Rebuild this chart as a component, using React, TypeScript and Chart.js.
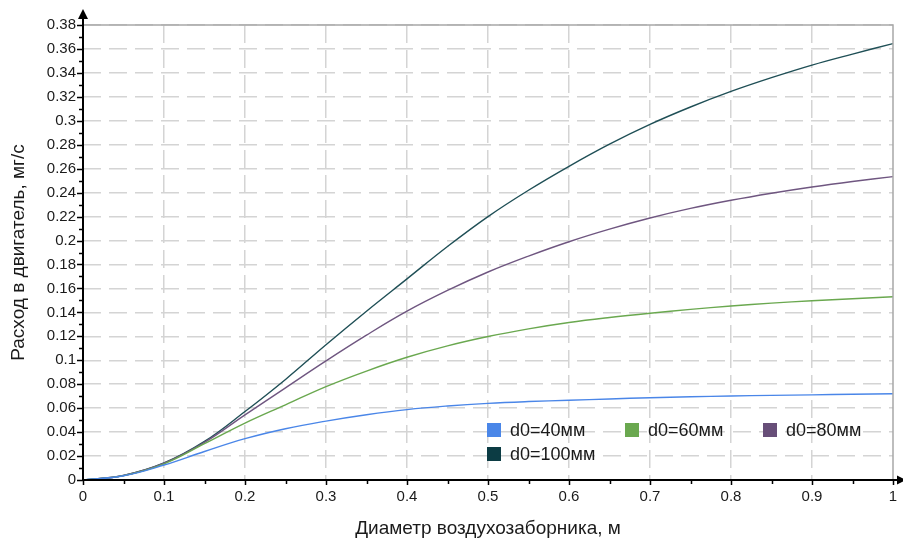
import React, { useEffect, useRef } from "react";
import { Chart, registerables } from "chart.js";

Chart.register(...registerables);

// Air intake diameter, m
const diameters = [0, 0.05, 0.1, 0.15, 0.2, 0.25, 0.3, 0.35, 0.4, 0.45, 0.5, 0.55, 0.6, 0.65, 0.7, 0.75, 0.8, 0.85, 0.9, 0.95, 1.0];

// Engine flow rate, mg/s, for each nozzle diameter d0
const flowD40 = [0, 0.0035, 0.0125, 0.0238, 0.0345, 0.0428, 0.0492, 0.0545, 0.0588, 0.0618, 0.064, 0.0655, 0.0666, 0.0677, 0.0687, 0.0695, 0.0702, 0.0707, 0.0711, 0.0716, 0.072];
const flowD60 = [0, 0.0037, 0.0135, 0.0303, 0.0475, 0.0628, 0.078, 0.091, 0.1025, 0.112, 0.1198, 0.1262, 0.1315, 0.1357, 0.1393, 0.1425, 0.1453, 0.1477, 0.1497, 0.1514, 0.153];
const flowD80 = [0, 0.0038, 0.014, 0.0314, 0.0544, 0.077, 0.0995, 0.121, 0.141, 0.1583, 0.1737, 0.187, 0.199, 0.2095, 0.2188, 0.2268, 0.2336, 0.2395, 0.2447, 0.2493, 0.2534];
const flowD100 = [0, 0.0038, 0.0142, 0.0322, 0.0572, 0.084, 0.113, 0.141, 0.168, 0.195, 0.22, 0.242, 0.262, 0.2805, 0.297, 0.3115, 0.3245, 0.336, 0.3465, 0.3557, 0.3645];

const seriesNames = ["d0=40мм", "d0=60мм", "d0=80мм", "d0=100мм"];
const lineColors = ["#4a86e8", "#6aa84f", "#6f5680", "#1f4f56"];
const swatchColors = ["#4a86e8", "#6aa84f", "#674e78", "#0c3c44"];

const xTickValues = [0, 0.1, 0.2, 0.3, 0.4, 0.5, 0.6, 0.7, 0.8, 0.9, 1];
const yTickValues = [0, 0.02, 0.04, 0.06, 0.08, 0.1, 0.12, 0.14, 0.16, 0.18, 0.2, 0.22, 0.24, 0.26, 0.28, 0.3, 0.32, 0.34, 0.36, 0.38];

const xAxisTitle = "Диаметр воздухозаборника, м";
const yAxisTitle = "Расход в двигатель, мг/с";

const FONT = "'Liberation Sans', Arial, sans-serif";

const fmt = (v: number) => String(Number(v.toFixed(3)));

// Axis lines with arrows, minor ticks, frame and the in-plot legend
const decorPlugin = {
  id: "axisDecor",
  afterDatasetsDraw(chart: any) {
    const { ctx, chartArea: a, scales } = chart;
    const xs = scales.x;
    const ys = scales.y;
    ctx.save();

    // top and right frame
    ctx.strokeStyle = "#a8a8a8";
    ctx.lineWidth = 1.5;
    ctx.beginPath();
    ctx.moveTo(a.left, a.top);
    ctx.lineTo(a.right, a.top);
    ctx.lineTo(a.right, a.bottom);
    ctx.stroke();

    // axis lines
    ctx.strokeStyle = "#000";
    ctx.lineWidth = 2;
    ctx.beginPath();
    ctx.moveTo(a.left, a.bottom);
    ctx.lineTo(a.left, a.top - 10);
    ctx.moveTo(a.left, a.bottom);
    ctx.lineTo(a.right + 6, a.bottom);
    ctx.stroke();

    // arrow heads
    ctx.fillStyle = "#000";
    ctx.beginPath();
    ctx.moveTo(a.left, a.top - 16);
    ctx.lineTo(a.left - 5, a.top - 6);
    ctx.lineTo(a.left + 5, a.top - 6);
    ctx.closePath();
    ctx.fill();
    ctx.beginPath();
    ctx.moveTo(a.right + 13, a.bottom);
    ctx.lineTo(a.right + 4, a.bottom - 4.5);
    ctx.lineTo(a.right + 4, a.bottom + 4.5);
    ctx.closePath();
    ctx.fill();

    // tick marks
    ctx.lineWidth = 1.5;
    ctx.beginPath();
    for (let i = 0; i <= 38; i++) {
      const y = Math.round(ys.getPixelForValue(i / 100)) + 0.5;
      const len = i % 2 === 0 ? 6 : 4;
      ctx.moveTo(a.left - len, y);
      ctx.lineTo(a.left, y);
    }
    for (let i = 0; i <= 20; i++) {
      const x = Math.round(xs.getPixelForValue(i / 20)) + 0.5;
      const len = i % 2 === 0 ? 5 : 4;
      ctx.moveTo(x, a.bottom);
      ctx.lineTo(x, a.bottom + len);
    }
    ctx.stroke();

    // legend
    const startX = a.left + 404;
    const startY = a.bottom - 57;
    const colStep = 138;
    const rowStep = 24;
    ctx.font = `18px ${FONT}`;
    ctx.textBaseline = "middle";
    ctx.textAlign = "left";
    chart.data.datasets.forEach((ds: any, i: number) => {
      const col = i % 3;
      const row = Math.floor(i / 3);
      const bx = startX + col * colStep;
      const by = startY + row * rowStep;
      ctx.fillStyle = swatchColors[i];
      ctx.fillRect(bx, by, 14, 14);
      ctx.fillStyle = "#1a1a1a";
      ctx.fillText(ds.label, bx + 23, by + 8);
    });

    ctx.restore();
  },
};

export default function App() {
  const canvasRef = useRef<HTMLCanvasElement | null>(null);

  useEffect(() => {
    if (!canvasRef.current) return;
    const series = [flowD40, flowD60, flowD80, flowD100];
    const chart = new Chart(canvasRef.current, {
      type: "line",
      data: {
        datasets: series.map((vals, i) => ({
          label: seriesNames[i],
          data: diameters.map((d, j) => ({ x: d, y: vals[j] })),
          borderColor: lineColors[i],
          backgroundColor: swatchColors[i],
          borderWidth: 1.4,
          pointRadius: 0,
          tension: 0.4,
          fill: false,
        })),
      },
      options: {
        animation: false,
        responsive: false,
        maintainAspectRatio: false,
        layout: { padding: { top: 25, right: 10, left: 0, bottom: 0 } },
        plugins: {
          legend: { display: false },
          tooltip: { enabled: false },
        },
        scales: {
          x: {
            type: "linear",
            min: 0,
            max: 1,
            afterBuildTicks: (s: any) => {
              s.ticks = xTickValues.map((v) => ({ value: v }));
            },
            afterFit: (s: any) => {
              s.height = 62;
              s.paddingLeft = 0;
              s.paddingRight = 0;
            },
            ticks: {
              padding: 8,
              maxRotation: 0,
              autoSkip: false,
              color: "#1a1a1a",
              font: { family: FONT, size: 15 },
              callback: (v: any) => fmt(Number(v)),
            },
            grid: {
              drawTicks: false,
              lineWidth: 1.5,
              color: (c: any) => (c.tick && (c.tick.value === 0 || c.tick.value === 1) ? "rgba(0,0,0,0)" : "#d4d4d4"),
            },
            border: { display: false, dash: [18, 7] },
            title: {
              display: true,
              text: xAxisTitle,
              color: "#1a1a1a",
              font: { family: FONT, size: 19 },
              padding: { top: 0, bottom: 2 },
            },
          },
          y: {
            type: "linear",
            min: 0,
            max: 0.38,
            afterBuildTicks: (s: any) => {
              s.ticks = yTickValues.map((v) => ({ value: v }));
            },
            afterFit: (s: any) => {
              s.width = 83;
              s.paddingTop = 0;
              s.paddingBottom = 0;
            },
            ticks: {
              padding: 7,
              autoSkip: false,
              color: "#1a1a1a",
              font: { family: FONT, size: 15 },
              callback: (v: any) => fmt(Number(v)),
            },
            grid: {
              drawTicks: false,
              lineWidth: 1.5,
              color: (c: any) => (c.tick && c.tick.value === 0 ? "rgba(0,0,0,0)" : "#d4d4d4"),
            },
            border: { display: false, dash: [18, 8] },
            title: {
              display: true,
              text: yAxisTitle,
              color: "#1a1a1a",
              font: { family: FONT, size: 19 },
              padding: { top: 7, bottom: 0 },
            },
          },
        },
      },
      plugins: [decorPlugin],
    });
    return () => chart.destroy();
  }, []);

  return (
    <div style={{ position: "fixed", left: 0, top: 0, width: 903, height: 542, background: "#fff" }}>
      <canvas ref={canvasRef} width={903} height={542} style={{ display: "block", width: 903, height: 542 }} />
    </div>
  );
}
